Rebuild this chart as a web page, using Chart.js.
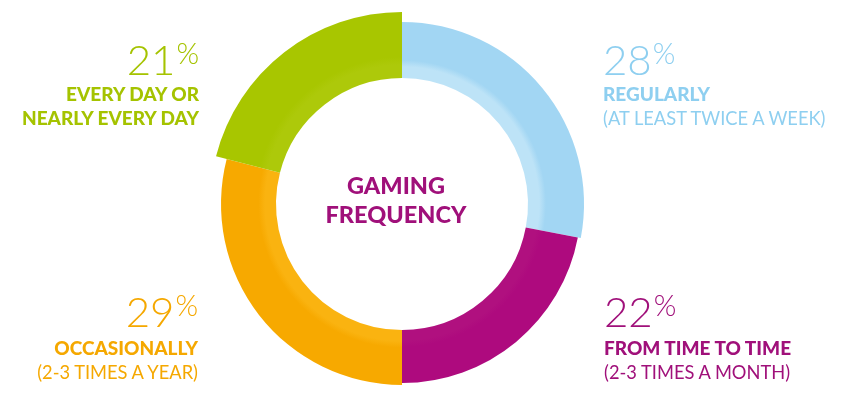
<!DOCTYPE html>
<html>
<head>
<meta charset="utf-8">
<script src="https://cdn.jsdelivr.net/npm/chart.js@4"></script>
<style>
  body { margin: 0; background: #fff; }
  #wrap { position: relative; width: 844px; height: 393px; overflow: hidden; font-family: Lato, "Open Sans", sans-serif; }
  #chart { position: absolute; left: 0; top: 0; }
  .block { position: absolute; }
  .block.left { text-align: right; }
  .block.right { text-align: left; }
  .num { font-size: 42px; line-height: 42px; font-weight: 300; }
  .num span { font-size: 29px; vertical-align: top; position: relative; top: -6px; margin-left: 1px; font-weight: 300; }
  .lbl { font-size: 19px; line-height: 24px; font-weight: 900; margin-top: 2px; white-space: nowrap; }
  .sub { font-size: 18.3px; line-height: 25px; font-weight: 400; white-space: nowrap; }
  .center { position: absolute; left: 296px; width: 200px; top: 171px; text-align: center;
            color: #a0107a; font-weight: 900; font-size: 23.5px; line-height: 29px; }
</style>
</head>
<body>
<div id="wrap">
  <canvas id="chart" width="844" height="393"></canvas>
  <div class="center">GAMING<br>FREQUENCY</div>
</div>
<script>
// clockwise from 12 o'clock
const categories = ["REGULARLY", "FROM TIME TO TIME", "OCCASIONALLY", "EVERY DAY OR NEARLY EVERY DAY"];
const subLabels = ["(AT LEAST TWICE A WEEK)", "(2-3 TIMES A MONTH)", "(2-3 TIMES A YEAR)", ""];
const shares = [28, 22, 29, 21];

const colors = ["#a2d6f3", "#ae0a7e", "#f7a900", "#a8c600"];
const innerColors = ["#bde3f7", "#b0107f", "#fab310", "#adc90a"];
const textColors = ["#8ecff0", "#a0107a", "#f5a800", "#a5c300"];
const ringWidths = [56, 53, 55, 66];
const innerRadius = 126;

// where each caption block sits: edge x, top, which side of the ring
const captionPos = [
  { x: 603, top: 38, side: "right", gap: 2 },
  { x: 604, top: 290, side: "right", gap: 4 },
  { x: 198, top: 290, side: "left", gap: 4 },
  { x: 199, top: 38, side: "left", gap: 2 }
];

const wrap = document.getElementById("wrap");
categories.forEach((cat, i) => {
  const p = captionPos[i];
  const div = document.createElement("div");
  div.className = "block " + p.side;
  div.style.top = p.top + "px";
  if (p.side === "left") div.style.right = (844 - p.x) + "px";
  else div.style.left = p.x + "px";
  div.style.color = textColors[i];
  let html = '<div class="num">' + shares[i] + '<span>%</span></div>';
  if (i === 3) {
    html += '<div class="lbl" style="margin-top:' + p.gap + 'px">EVERY DAY OR</div>' +
            '<div class="lbl" style="margin-top:0">NEARLY EVERY DAY</div>';
  } else {
    html += '<div class="lbl" style="margin-top:' + p.gap + 'px">' + cat + '</div>';
  }
  if (subLabels[i]) html += '<div class="sub">' + subLabels[i] + '</div>';
  div.innerHTML = html;
  wrap.appendChild(div);
});

// each segment gets its own ring thickness
const ringWidthPlugin = {
  id: "ringWidths",
  afterDatasetsUpdate(chart) {
    chart.getDatasetMeta(0).data.forEach((arc, i) => {
      arc.outerRadius = arc.innerRadius + ringWidths[i];
    });
  }
};

function fill(c) {
  const area = c.chart.chartArea;
  const i = c.dataIndex;
  if (!area) return colors[i];
  const cx = (area.left + area.right) / 2;
  const cy = (area.top + area.bottom) / 2;
  const g = c.chart.ctx.createRadialGradient(cx, cy, innerRadius, cx, cy, innerRadius + ringWidths[i]);
  g.addColorStop(0, innerColors[i]);
  g.addColorStop(0.2, innerColors[i]);
  g.addColorStop(0.32, colors[i]);
  g.addColorStop(1, colors[i]);
  return g;
}

new Chart(document.getElementById("chart"), {
  type: "doughnut",
  data: {
    labels: categories,
    datasets: [{
      data: shares,
      backgroundColor: fill,
      borderWidth: 0
    }]
  },
  options: {
    responsive: false,
    animation: false,
    cutout: innerRadius,
    layout: { padding: { left: 216, right: 256, top: 18, bottom: 3 } },
    plugins: {
      legend: { display: false },
      tooltip: { enabled: false }
    }
  },
  plugins: [ringWidthPlugin]
});
</script>
</body>
</html>
